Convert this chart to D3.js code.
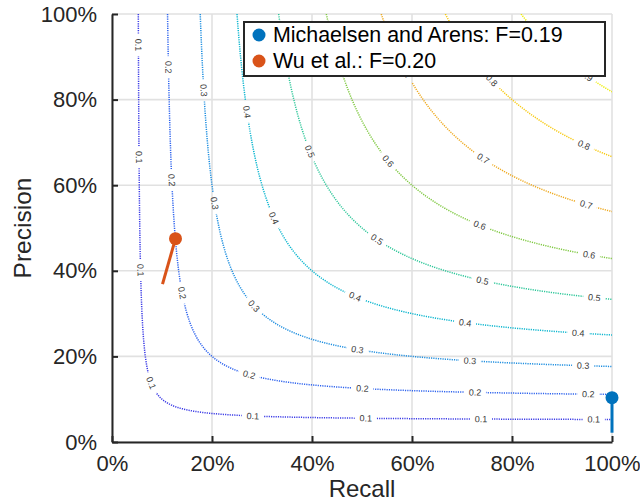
<!DOCTYPE html>
<html><head><meta charset="utf-8">
<script src="https://cdn.jsdelivr.net/npm/d3@7/dist/d3.min.js"></script>
<style>body{margin:0;background:#fff}svg{display:block}</style>
</head><body>
<svg id="c" width="640" height="503"></svg>
<script>
// ---- data ----
const fLevels = [0.1, 0.2, 0.3, 0.4, 0.5, 0.6, 0.7, 0.8, 0.9];
const levelColors = ["#3c3ce6", "#2f64ee", "#1f8fe0", "#0db6cf", "#2fc79a", "#80c943", "#eeaa20", "#f7c90f", "#eeee00"];
// approximate label locations [recall, precision] for each F level (snapped to the curve)
const labelPoints = [
  [[0.052,0.928],[0.052,0.666],[0.053,0.402],[0.078,0.138],[0.282,0.058],[0.508,0.054],[0.738,0.054],[0.964,0.054]],
  [[0.111,0.876],[0.118,0.612],[0.138,0.348],[0.274,0.159],[0.5,0.124],[0.726,0.117],[0.952,0.110]],
  [[0.182,0.822],[0.202,0.558],[0.282,0.315],[0.49,0.215],[0.716,0.187],[0.942,0.178]],
  [[0.268,0.771],[0.324,0.523],[0.486,0.339],[0.706,0.278],[0.932,0.255]],
  [[0.394,0.678],[0.53,0.472],[0.74,0.374],[0.964,0.336]],
  [[0.55,0.654],[0.736,0.507],[0.954,0.437]],
  [[0.588,0.862],[0.742,0.661],[0.948,0.554]],
  [[0.758,0.843],[0.944,0.694]],
  [[0.948,0.853]]
];
const methods = ["Michaelsen and Arens", "Wu et al."];
const methodF = ["0.19", "0.20"];
const methodRecall = [1.0, 0.127];
const methodPrecision = [0.1035, 0.475];
const stemRecall = [1.0, 0.101];
const stemPrecision = [0.0217, 0.369];
const methodColors = ["#0072BD", "#D95319"];
const tickValues = [0, 0.2, 0.4, 0.6, 0.8, 1];

// ---- drawing ----
const W = 640, H = 503;
const x = d3.scaleLinear([0, 1], [112, 612]);
const y = d3.scaleLinear([0, 1], [442, 14]);
const svg = d3.select("#c");
const FONT = "'Liberation Sans', Arial, Helvetica, sans-serif";

const defs = svg.append("defs");
const mask = defs.append("mask").attr("id", "lblmask")
  .attr("maskUnits", "userSpaceOnUse").attr("x", 0).attr("y", 0).attr("width", W).attr("height", H);
mask.append("rect").attr("width", W).attr("height", H).attr("fill", "white");
defs.append("clipPath").attr("id", "plotclip").append("rect")
  .attr("x", x(0)).attr("y", y(1)).attr("width", x(1) - x(0)).attr("height", y(0) - y(1));

// grid
const grid = svg.append("g").attr("stroke", "#e1e1e1").attr("stroke-width", 1.6);
tickValues.forEach(v => {
  grid.append("line").attr("x1", x(v)).attr("x2", x(v)).attr("y1", y(0)).attr("y2", y(1));
  grid.append("line").attr("x1", x(0)).attr("x2", x(1)).attr("y1", y(v)).attr("y2", y(v));
});

// contours
const cont = svg.append("g").attr("clip-path", "url(#plotclip)");
const lines = cont.append("g").attr("mask", "url(#lblmask)");
const labels = cont.append("g");
const line = d3.line().x(d => x(d[0])).y(d => y(d[1]));

fLevels.forEach((f, i) => {
  const m = f / (2 - f);
  const pts = [];
  const N = 600;
  for (let k = 0; k <= N; k++) {
    const r = m + (1 - m) * k / N;
    pts.push([r, f * r / (2 * r - f)]);
    const p = m + (1 - m) * k / N;
    pts.push([f * p / (2 * p - f), p]);
  }
  pts.sort((a, b) => a[0] - b[0] || b[1] - a[1]);
  lines.append("path").datum(pts).attr("d", line)
    .attr("fill", "none").attr("stroke", levelColors[i])
    .attr("stroke-width", 1.5).attr("stroke-dasharray", "1.2,1.1");

  labelPoints[i].forEach(lp => {
    const px = x(lp[0]), py = y(lp[1]);
    let best = 0, bd = Infinity;
    pts.forEach((q, j) => {
      const d = (x(q[0]) - px) ** 2 + (y(q[1]) - py) ** 2;
      if (d < bd) { bd = d; best = j; }
    });
    const a = pts[Math.max(0, best - 6)], b = pts[Math.min(pts.length - 1, best + 6)];
    let ang = Math.atan2(y(b[1]) - y(a[1]), x(b[0]) - x(a[0])) * 180 / Math.PI;
    if (ang > 90) ang -= 180;
    if (ang <= -90) ang += 180;
    const cx = x(pts[best][0]), cy = y(pts[best][1]);
    const tr = `translate(${cx},${cy}) rotate(${ang})`;
    mask.append("rect").attr("x", -11).attr("y", -5).attr("width", 22).attr("height", 10)
      .attr("fill", "black").attr("transform", tr);
    labels.append("text").attr("transform", tr)
      .attr("text-anchor", "middle").attr("dy", "0.35em")
      .attr("font-family", FONT).attr("font-size", 9).attr("fill", "#3a3a3a")
      .text(d3.format(".1f")(f));
  });
});

// axes
const xAxis = d3.axisBottom(x).tickValues(tickValues).tickFormat(d3.format(".0%"))
  .tickSizeInner(-6).tickSizeOuter(0).tickPadding(13);
const yAxis = d3.axisLeft(y).tickValues(tickValues).tickFormat(d3.format(".0%"))
  .tickSizeInner(-6).tickSizeOuter(0).tickPadding(15);
const gx = svg.append("g").attr("transform", `translate(0,${y(0)})`).call(xAxis);
const gy = svg.append("g").attr("transform", `translate(${x(0)},0)`).call(yAxis);
[gx, gy].forEach(g => {
  g.select(".domain").attr("stroke", "#262626").attr("stroke-width", 2);
  g.selectAll(".tick line").attr("stroke", "#262626").attr("stroke-width", 2);
  g.selectAll(".tick text").attr("fill", "#262626").attr("font-family", FONT).attr("font-size", 22);
});

svg.append("text").attr("x", x(0.5)).attr("y", 489).attr("dy", "0.35em")
  .attr("text-anchor", "middle").attr("font-family", FONT).attr("font-size", 24)
  .attr("fill", "#262626").text("Recall");
svg.append("text").attr("transform", `translate(22,${y(0.5)}) rotate(-90)`).attr("dy", "0.35em")
  .attr("text-anchor", "middle").attr("font-family", FONT).attr("font-size", 24.5)
  .attr("fill", "#262626").text("Precision");

// stems and markers
methods.forEach((name, i) => {
  svg.append("line")
    .attr("x1", x(methodRecall[i])).attr("y1", y(methodPrecision[i]))
    .attr("x2", x(stemRecall[i])).attr("y2", y(stemPrecision[i]))
    .attr("stroke", methodColors[i]).attr("stroke-width", 3);
  svg.append("circle").attr("cx", x(methodRecall[i])).attr("cy", y(methodPrecision[i]))
    .attr("r", 6.5).attr("fill", methodColors[i]);
});

// legend
const lg = svg.append("g");
lg.append("rect").attr("x", 244).attr("y", 22).attr("width", 361).attr("height", 54)
  .attr("fill", "white").attr("stroke", "#262626").attr("stroke-width", 2);
methods.forEach((name, i) => {
  const cy = 35 + i * 26;
  lg.append("circle").attr("cx", 259).attr("cy", cy).attr("r", 6.5).attr("fill", methodColors[i]);
  lg.append("text").attr("x", 273).attr("y", cy).attr("dy", "0.35em")
    .attr("font-family", FONT).attr("font-size", 21.4).attr("fill", "#000")
    .text(`${name}: F=${methodF[i]}`);
});
</script>
</body></html>
